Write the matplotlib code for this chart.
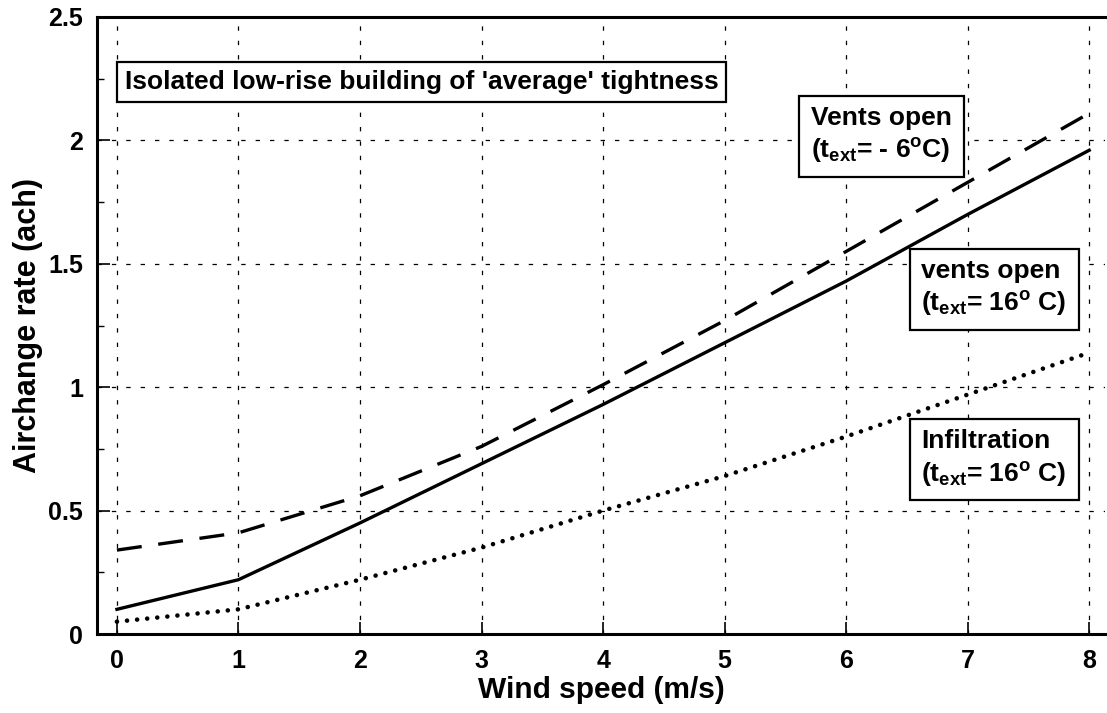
import numpy as np
import matplotlib
matplotlib.use('Agg')
import matplotlib.pyplot as plt
from matplotlib.ticker import MultipleLocator

plt.rcParams['font.family'] = ['Liberation Sans', 'DejaVu Sans']
plt.rcParams['font.weight'] = 'bold'
plt.rcParams['mathtext.fontset'] = 'custom'
plt.rcParams['mathtext.rm'] = 'Liberation Sans:bold'
plt.rcParams['mathtext.it'] = 'Liberation Sans:bold'
plt.rcParams['mathtext.bf'] = 'Liberation Sans:bold'
plt.rcParams['mathtext.default'] = 'regular'

# wind speed (m/s)
wind = [0, 1, 2, 3, 4, 5, 6, 7, 8]
# air change rates (ach)
vents_cold = [0.34, 0.41, 0.56, 0.76, 1.01, 1.27, 1.55, 1.83, 2.11]
vents_warm = [0.10, 0.22, 0.45, 0.69, 0.93, 1.18, 1.43, 1.70, 1.96]
infiltration = [0.05, 0.10, 0.22, 0.35, 0.50, 0.64, 0.80, 0.97, 1.14]

fig = plt.figure(figsize=(11.07, 7.13), dpi=100)
ax = fig.add_axes([97 / 1107, 79 / 713, 1008 / 1107, 617 / 713])

ax.plot(wind, vents_cold, color='black', lw=2.4, dashes=(7.5, 5))
ax.plot(wind, vents_warm, color='black', lw=2.4)
ax.plot(wind, infiltration, color='black', lw=3.3, dashes=(0.01, 2.2),
        dash_capstyle='round')

ax.set_xlim(-0.164, 8.13)
ax.set_ylim(0, 2.5)
ax.xaxis.set_major_locator(MultipleLocator(1))
ax.yaxis.set_minor_locator(MultipleLocator(0.25))
ax.set_yticks([0, 0.5, 1, 1.5, 2, 2.5])
ax.set_yticklabels(['0', '0.5', '1', '1.5', '2', '2.5'])

ax.grid(True, which='major', color='black', lw=0.9, linestyle=(0, (3.5, 8)))
ax.tick_params(which='major', direction='in', length=9, width=1.2,
               labelsize=18, pad=11)
ax.tick_params(which='minor', direction='in', length=5, width=1.0)
ax.tick_params(axis='y', pad=10)
for lab in ax.get_xticklabels() + ax.get_yticklabels():
    lab.set_fontweight('bold')

for s in ['left', 'bottom', 'top']:
    ax.spines[s].set_linewidth(2.2)
ax.spines['right'].set_visible(False)

ax.set_xlabel('Wind speed (m/s)', fontsize=21.5, fontweight='bold', labelpad=2)
ax.set_ylabel('Airchange rate (ach)', fontsize=22, fontweight='bold', labelpad=4)

box1 = dict(boxstyle='square,pad=0.3', facecolor='white', edgecolor='black', lw=1.6)
box = dict(boxstyle='square,pad=0.45', facecolor='white', edgecolor='black', lw=1.6)

ax.text(0.065, 2.235, "Isolated low-rise building of 'average' tightness",
        fontsize=19, fontweight='bold', ha='left', va='center', bbox=box1)
ax.text(5.71, 2.02, 'Vents open\n(t$_{ext}$= - 6$^{o}$C)',
        fontsize=19, fontweight='bold', ha='left', va='center',
        linespacing=1.3, bbox=box)
ax.text(6.62, 1.40, 'vents open\n(t$_{ext}$= 16$^{o}$ C)',
        fontsize=19, fontweight='bold', ha='left', va='center',
        linespacing=1.3, bbox=box)
ax.text(6.62, 0.71, 'Infiltration\n(t$_{ext}$= 16$^{o}$ C)',
        fontsize=19, fontweight='bold', ha='left', va='center',
        linespacing=1.3, bbox=box)

fig.savefig('out.png', dpi=100)
